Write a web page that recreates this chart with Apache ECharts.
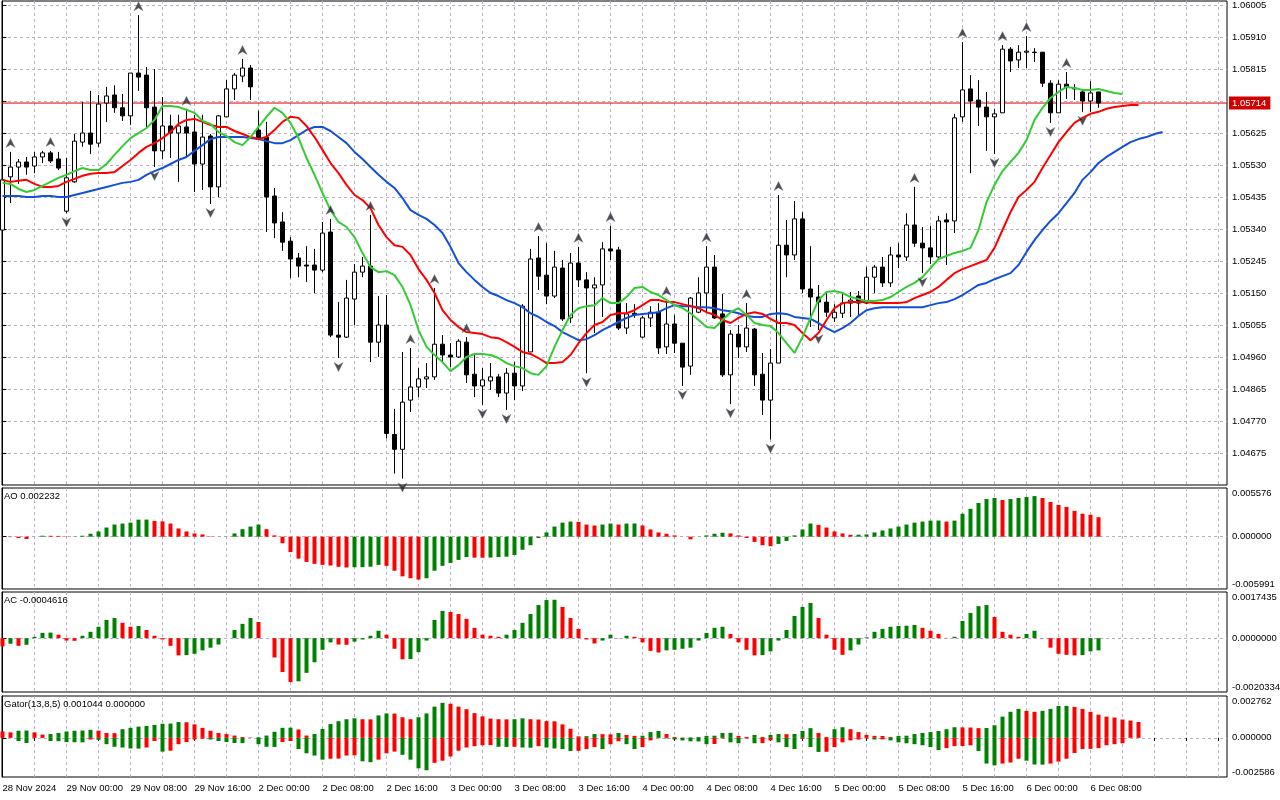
<!DOCTYPE html>
<html><head><meta charset="utf-8">
<script src="https://cdn.jsdelivr.net/npm/echarts@6/dist/echarts.min.js"></script>
<style>html,body{margin:0;padding:0;background:#fff}#chart{width:1280px;height:800px}</style>
</head><body><div id="chart"></div>
<script>
// ---- time axis labels (every 8 hourly bars, starting at bar 0) ----
const timeLabels = ["28 Nov 2024","29 Nov 00:00","29 Nov 08:00","29 Nov 16:00","2 Dec 00:00","2 Dec 08:00","2 Dec 16:00","3 Dec 00:00","3 Dec 08:00","3 Dec 16:00","4 Dec 00:00","4 Dec 08:00","4 Dec 16:00","5 Dec 00:00","5 Dec 08:00","5 Dec 16:00","6 Dec 00:00","6 Dec 08:00"];
const priceTicks = [1.06005,1.05910,1.05815,1.05720,1.05625,1.05530,1.05435,1.05340,1.05245,1.05150,1.05055,1.04960,1.04865,1.04770,1.04675];
const lastPrice = 1.05714;

// ---- H1 candles ----
const opens = [1.05337,1.05495,1.05524,1.05539,1.05527,1.05554,1.05566,1.05548,1.05393,1.05480,
1.05598,1.05625,1.05595,1.05714,1.05738,1.05700,1.05676,1.05803,1.05797,1.05702,
1.05572,1.05646,1.05625,1.05643,1.05628,1.05533,1.05616,1.05465,1.05673,1.05756,
1.05794,1.05818,1.05634,1.05613,1.05438,1.05361,1.05304,1.05254,1.05233,1.05233,
1.05218,1.05331,1.05025,1.05019,1.05132,1.05212,1.05230,1.05004,1.05055,1.04730,
1.04686,1.04832,1.04871,1.04895,1.04901,1.04998,1.04966,1.04960,1.05004,1.04909,
1.04874,1.04889,1.04901,1.04853,1.04912,1.04874,1.04975,1.05254,1.05203,1.05141,
1.05224,1.05076,1.05239,1.05189,1.05165,1.05174,1.05281,1.05278,1.05046,1.05090,
1.05019,1.05076,1.05093,1.04990,1.05058,1.05001,1.04933,1.05093,1.05150,1.05227,
1.05088,1.04907,1.05028,1.04990,1.05043,1.04909,1.04832,1.04942,1.05292,1.05263,
1.05370,1.05162,1.05138,1.05123,1.05076,1.05090,1.05120,1.05141,1.05120,1.05197,
1.05227,1.05180,1.05263,1.05257,1.05352,1.05298,1.05284,1.05257,1.05367,1.05364,
1.05673,1.05756,1.05723,1.05702,1.05673,1.05685,1.05874,1.05842,1.05865,1.05865,
1.05865,1.05773,1.05685,1.05770,1.05759,1.05747,1.05720,1.05747];
const closes = [1.05486,1.05524,1.05539,1.05524,1.05554,1.05566,1.05542,1.05521,1.05492,1.05601,
1.05625,1.05592,1.05711,1.05735,1.05700,1.05676,1.05803,1.05791,1.05700,1.05572,
1.05646,1.05625,1.05646,1.05625,1.05533,1.05613,1.05465,1.05676,1.05756,1.05797,
1.05818,1.05762,1.05610,1.05435,1.05358,1.05301,1.05251,1.05230,1.05230,1.05218,
1.05328,1.05025,1.05019,1.05135,1.05212,1.05230,1.05004,1.05055,1.04733,1.04686,
1.04826,1.04871,1.04895,1.04901,1.04998,1.04966,1.04960,1.05007,1.04907,1.04874,
1.04892,1.04901,1.04853,1.04912,1.04874,1.05111,1.05251,1.05200,1.05141,1.05227,
1.05073,1.05239,1.05189,1.05165,1.05174,1.05281,1.05275,1.05046,1.05088,1.05085,
1.05076,1.05093,1.04987,1.05058,1.05001,1.04930,1.05135,1.05150,1.05227,1.05076,
1.04907,1.05028,1.04990,1.05046,1.04907,1.04832,1.04942,1.05292,1.05263,1.05370,
1.05162,1.05138,1.05123,1.05093,1.05093,1.05120,1.05129,1.05120,1.05197,1.05227,
1.05180,1.05263,1.05257,1.05352,1.05298,1.05284,1.05257,1.05364,1.05361,1.05670,
1.05753,1.05720,1.05702,1.05673,1.05682,1.05874,1.05839,1.05865,1.05868,1.05864,
1.05773,1.05685,1.05770,1.05762,1.05756,1.05720,1.05744,1.05714];
const lows = [1.05331,1.05417,1.05474,1.05501,1.05506,1.05536,1.05536,1.05515,1.05387,1.05477,
1.05584,1.05563,1.05584,1.05658,1.05685,1.05661,1.05649,1.05750,1.05640,1.05524,
1.05548,1.05551,1.05480,1.05554,1.05450,1.05456,1.05414,1.05435,1.05673,1.05723,
1.05776,1.05723,1.05607,1.05331,1.05313,1.05275,1.05194,1.05197,1.05183,1.05150,
1.05212,1.05019,1.04957,1.05016,1.05055,1.05197,1.04945,1.04960,1.04718,1.04614,
1.04599,1.04797,1.04841,1.04868,1.04892,1.04942,1.04930,1.04957,1.04883,1.04841,
1.04818,1.04862,1.04841,1.04803,1.04832,1.04859,1.04975,1.05159,1.05117,1.05135,
1.05067,1.05061,1.05168,1.04912,1.05031,1.05079,1.05248,1.05040,1.05028,1.05076,
1.05016,1.05049,1.04969,1.04969,1.04972,1.04874,1.04907,1.05090,1.05093,1.05073,
1.04901,1.04820,1.04957,1.04975,1.04874,1.04788,1.04715,1.04942,1.05197,1.05248,
1.05150,1.05049,1.05040,1.05079,1.05064,1.05076,1.05079,1.05085,1.05117,1.05150,
1.05168,1.05168,1.05224,1.05245,1.05287,1.05209,1.05236,1.05254,1.05233,1.05328,
1.05658,1.05506,1.05646,1.05572,1.05563,1.05685,1.05806,1.05818,1.05818,1.05836,
1.05762,1.05655,1.05685,1.05726,1.05723,1.05688,1.05688,1.05700];
const highs = [1.05492,1.05569,1.05548,1.05554,1.05569,1.05572,1.05572,1.05569,1.05551,1.05622,
1.05717,1.05750,1.05738,1.05762,1.05767,1.05741,1.05803,1.05975,1.05821,1.05815,
1.05732,1.05679,1.05679,1.05694,1.05679,1.05679,1.05622,1.05679,1.05782,1.05803,
1.05845,1.05827,1.05691,1.05658,1.05462,1.05390,1.05316,1.05269,1.05289,1.05281,
1.05361,1.05370,1.05123,1.05189,1.05236,1.05257,1.05382,1.05141,1.05144,1.04806,
1.04975,1.04987,1.04927,1.04942,1.05165,1.05025,1.05001,1.05013,1.05019,1.04972,
1.04927,1.04942,1.04909,1.04927,1.04945,1.05117,1.05281,1.05319,1.05298,1.05275,
1.05248,1.05269,1.05287,1.05212,1.05197,1.05301,1.05349,1.05287,1.05120,1.05117,
1.05082,1.05111,1.05120,1.05129,1.05085,1.05001,1.05138,1.05197,1.05289,1.05263,
1.05147,1.05040,1.05055,1.05120,1.05046,1.04972,1.04984,1.05441,1.05367,1.05423,
1.05390,1.05289,1.05174,1.05150,1.05117,1.05147,1.05153,1.05156,1.05227,1.05233,
1.05257,1.05287,1.05298,1.05387,1.05465,1.05346,1.05349,1.05379,1.05387,1.05682,
1.05895,1.05797,1.05782,1.05747,1.05697,1.05886,1.05880,1.05886,1.05913,1.05877,
1.05865,1.05782,1.05782,1.05806,1.05770,1.05750,1.05779,1.05747];

// ---- Alligator (already shifted forward: lips +3, teeth +5, jaw +8) ----
const lips = [1.05477,1.05474,1.05459,1.05450,1.05456,1.05468,1.05480,1.05492,1.05501,1.05512,
1.05521,1.05515,1.05515,1.05533,1.05560,1.05586,1.05610,1.05625,1.05640,1.05664,
1.05705,1.05705,1.05702,1.05694,1.05685,1.05661,1.05652,1.05628,1.05616,1.05598,
1.05589,1.05613,1.05643,1.05673,1.05700,1.05685,1.05655,1.05610,1.05551,1.05501,
1.05447,1.05396,1.05361,1.05346,1.05316,1.05269,1.05227,1.05212,1.05215,1.05203,
1.05168,1.05114,1.05040,1.04990,1.04966,1.04945,1.04918,1.04936,1.04960,1.04969,
1.04969,1.04966,1.04957,1.04942,1.04933,1.04927,1.04912,1.04907,1.04933,1.04990,
1.05040,1.05085,1.05105,1.05111,1.05114,1.05135,1.05120,1.05120,1.05138,1.05165,
1.05168,1.05153,1.05144,1.05129,1.05114,1.05105,1.05090,1.05070,1.05049,1.05046,
1.05070,1.05093,1.05105,1.05085,1.05061,1.05055,1.05052,1.05031,1.05001,1.04972,
1.05019,1.05076,1.05129,1.05153,1.05156,1.05150,1.05138,1.05132,1.05126,1.05126,
1.05129,1.05138,1.05153,1.05168,1.05180,1.05197,1.05224,1.05251,1.05260,1.05269,
1.05275,1.05284,1.05337,1.05420,1.05471,1.05512,1.05539,1.05566,1.05604,1.05664,
1.05700,1.05729,1.05747,1.05762,1.05759,1.05753,1.05753,1.05756,1.05750,1.05744,
1.05741];
const teeth = [1.05486,1.05480,1.05483,1.05486,1.05474,1.05465,1.05465,1.05468,1.05480,1.05489,
1.05498,1.05504,1.05506,1.05506,1.05509,1.05527,1.05545,1.05566,1.05584,1.05595,
1.05610,1.05628,1.05652,1.05664,1.05667,1.05658,1.05649,1.05643,1.05643,1.05631,
1.05622,1.05613,1.05607,1.05613,1.05634,1.05658,1.05673,1.05670,1.05646,1.05613,
1.05575,1.05536,1.05506,1.05471,1.05441,1.05426,1.05402,1.05352,1.05316,1.05292,
1.05287,1.05263,1.05221,1.05189,1.05150,1.05099,1.05070,1.05049,1.05034,1.05031,
1.05028,1.05019,1.05016,1.05004,1.04990,1.04975,1.04969,1.04957,1.04942,1.04942,
1.04945,1.04966,1.05001,1.05031,1.05055,1.05064,1.05085,1.05090,1.05090,1.05099,
1.05114,1.05129,1.05129,1.05123,1.05123,1.05117,1.05111,1.05105,1.05093,1.05085,
1.05070,1.05061,1.05076,1.05088,1.05093,1.05088,1.05073,1.05061,1.05061,1.05055,
1.05031,1.05010,1.05031,1.05070,1.05105,1.05120,1.05123,1.05123,1.05123,1.05120,
1.05120,1.05120,1.05120,1.05123,1.05135,1.05144,1.05153,1.05168,1.05189,1.05209,
1.05221,1.05230,1.05239,1.05248,1.05284,1.05337,1.05390,1.05435,1.05456,1.05480,
1.05521,1.05560,1.05598,1.05628,1.05655,1.05670,1.05682,1.05688,1.05697,1.05702,
1.05705,1.05708,1.05708];
const jaw = [1.05438,1.05438,1.05438,1.05435,1.05435,1.05438,1.05438,1.05435,1.05435,1.05441,
1.05447,1.05453,1.05459,1.05465,1.05471,1.05477,1.05480,1.05486,1.05501,1.05512,
1.05521,1.05533,1.05545,1.05554,1.05572,1.05589,1.05607,1.05613,1.05613,1.05613,
1.05613,1.05610,1.05607,1.05601,1.05595,1.05595,1.05604,1.05619,1.05634,1.05643,
1.05643,1.05631,1.05613,1.05595,1.05569,1.05548,1.05524,1.05501,1.05480,1.05462,
1.05432,1.05396,1.05382,1.05370,1.05352,1.05328,1.05287,1.05239,1.05212,1.05189,
1.05168,1.05150,1.05141,1.05129,1.05120,1.05108,1.05090,1.05079,1.05064,1.05052,
1.05034,1.05022,1.05010,1.05013,1.05025,1.05040,1.05052,1.05064,1.05076,1.05085,
1.05088,1.05090,1.05093,1.05105,1.05114,1.05111,1.05111,1.05108,1.05108,1.05105,
1.05099,1.05096,1.05090,1.05082,1.05079,1.05079,1.05088,1.05090,1.05088,1.05079,
1.05076,1.05073,1.05061,1.05046,1.05034,1.05046,1.05061,1.05082,1.05099,1.05105,
1.05108,1.05108,1.05108,1.05108,1.05108,1.05108,1.05114,1.05120,1.05123,1.05132,
1.05144,1.05159,1.05174,1.05180,1.05191,1.05200,1.05209,1.05233,1.05272,1.05307,
1.05337,1.05364,1.05387,1.05417,1.05447,1.05486,1.05509,1.05536,1.05554,1.05569,
1.05584,1.05598,1.05607,1.05613,1.05622,1.05628];

// ---- Fractals (bar indices) ----
const fractalUp = [1,6,17,23,30,41,46,51,54,58,67,72,76,83,88,93,97,114,120,125,128,133];
const fractalDown = [8,19,26,42,50,60,63,73,85,91,96,102,115,124,131,135];

// ---- Awesome Oscillator ----
const ao = [-0.00002,-0.00005,-0.00015,-0.00026,0.00001,0.00011,0.00010,0.00009,-0.00003,0.00003,
0.00011,0.00034,0.00060,0.00105,0.00139,0.00150,0.00161,0.00195,0.00196,0.00180,
0.00176,0.00150,0.00094,0.00060,0.00037,0.00026,0.00004,0.00001,0.00002,0.00037,
0.00086,0.00116,0.00139,0.00086,0.00015,-0.00075,-0.00176,-0.00251,-0.00289,-0.00311,
-0.00323,-0.00330,-0.00345,-0.00353,-0.00350,-0.00349,-0.00344,-0.00323,-0.00334,-0.00390,
-0.00454,-0.00476,-0.00491,-0.00476,-0.00390,-0.00334,-0.00300,-0.00266,-0.00233,-0.00240,
-0.00241,-0.00239,-0.00233,-0.00229,-0.00210,-0.00150,-0.00098,-0.00015,0.00049,0.00116,
0.00161,0.00173,0.00170,0.00139,0.00128,0.00139,0.00150,0.00139,0.00150,0.00151,
0.00128,0.00083,0.00049,0.00034,0.00015,0.00001,-0.00030,-0.00001,0.00015,0.00034,
0.00045,0.00038,0.00015,-0.00015,-0.00060,-0.00098,-0.00109,-0.00083,-0.00049,0.00015,
0.00083,0.00150,0.00135,0.00105,0.00060,0.00037,0.00022,0.00023,0.00026,0.00049,
0.00071,0.00094,0.00116,0.00139,0.00161,0.00173,0.00184,0.00185,0.00173,0.00184,
0.00263,0.00319,0.00386,0.00431,0.00443,0.00420,0.00431,0.00443,0.00454,0.00465,
0.00443,0.00398,0.00364,0.00341,0.00296,0.00263,0.00251,0.002232];
const aoTicks = [0.005576, 0, -0.005991];

// ---- Accelerator Oscillator ----
const ac = [-0.00031,-0.00021,-0.00029,-0.00025,0.00005,0.00020,0.00021,0.00013,-0.00009,-0.00010,
0.00009,0.00024,0.00043,0.00069,0.00076,0.00058,0.00043,0.00046,0.00031,0.00009,
-0.00005,-0.00029,-0.00065,-0.00064,-0.00059,-0.00046,-0.00036,-0.00024,0.00000,0.00031,
0.00054,0.00076,0.00061,0.00000,-0.00073,-0.00128,-0.00166,-0.00163,-0.00131,-0.00091,
-0.00044,-0.00016,-0.00024,-0.00025,-0.00013,-0.00005,0.00009,0.00028,0.00013,-0.00040,
-0.00080,-0.00079,-0.00053,-0.00009,0.00069,0.00103,0.00099,0.00091,0.00073,0.00039,
0.00013,0.00009,0.00005,0.00013,0.00031,0.00058,0.00091,0.00125,0.00144,0.00145,
0.00118,0.00076,0.00035,-0.00005,-0.00020,-0.00009,0.00013,-0.00001,0.00009,0.00005,
-0.00016,-0.00048,-0.00054,-0.00046,-0.00044,-0.00040,-0.00036,-0.00009,0.00020,0.00039,
0.00043,0.00016,-0.00016,-0.00044,-0.00065,-0.00064,-0.00050,-0.00009,0.00031,0.00084,
0.00118,0.00133,0.00076,0.00013,-0.00044,-0.00063,-0.00046,-0.00024,0.00003,0.00024,
0.00035,0.00043,0.00046,0.00047,0.00050,0.00039,0.00028,0.00016,0.00001,0.00005,
0.00065,0.00095,0.00121,0.00125,0.00080,0.00024,0.00013,0.00005,0.00016,0.00028,
-0.00001,-0.00036,-0.00059,-0.00063,-0.00065,-0.00064,-0.00050,-0.0004616];
const acTicks = [0.0017435, 0, -0.0020334];

// ---- Gator Oscillator ----
const gatorUp = [0.00042,0.00036,0.00047,0.00048,0.00036,0.00021,0.00025,0.00032,0.00042,0.00047,
0.00048,0.00053,0.00047,0.00032,0.00031,0.00057,0.00066,0.00074,0.00078,0.00085,
0.00093,0.00094,0.00104,0.00103,0.00089,0.00066,0.00047,0.00032,0.00025,0.00015,
0.00006,0.00002,0.00004,0.00015,0.00040,0.00066,0.00067,0.00055,0.00015,0.00025,
0.00059,0.00091,0.00110,0.00123,0.00129,0.00123,0.00122,0.00148,0.00161,0.00160,
0.00136,0.00123,0.00136,0.00161,0.00206,0.00231,0.00225,0.00206,0.00189,0.00163,
0.00142,0.00127,0.00123,0.00122,0.00123,0.00129,0.00123,0.00121,0.00110,0.00109,
0.00089,0.00060,0.00010,0.00011,0.00025,0.00024,0.00023,0.00032,0.00019,0.00013,
0.00014,0.00038,0.00045,0.00025,0.00006,0.00002,0.00003,0.00006,0.00013,0.00014,
0.00032,0.00033,0.00013,0.00006,0.00019,0.00006,0.00019,0.00025,0.00024,0.00026,
0.00045,0.00064,0.00032,0.00006,0.00057,0.00070,0.00057,0.00038,0.00019,0.00013,
0.00012,0.00006,0.00013,0.00014,0.00025,0.00032,0.00038,0.00045,0.00057,0.00070,
0.00069,0.00068,0.00064,0.00065,0.00083,0.00140,0.00172,0.00191,0.00178,0.00172,
0.00178,0.00191,0.00210,0.00211,0.00204,0.00191,0.00172,0.00153,0.00140,0.00134,
0.00121,0.00114,0.001044];
const gatorDown = [0,0,-0.00021,-0.00034,-0.00002,-0.00001,-0.00021,-0.00022,-0.00028,-0.00029,
-0.00030,-0.00011,-0.00013,-0.00042,-0.00059,-0.00064,-0.00070,-0.00071,-0.00064,-0.00021,
-0.00091,-0.00085,-0.00042,-0.00028,-0.00011,-0.00006,-0.00011,-0.00021,-0.00028,-0.00034,
-0.00035,-0.00001,-0.00042,-0.00059,-0.00060,-0.00028,-0.00021,-0.00074,-0.00102,-0.00117,
-0.00144,-0.00138,-0.00137,-0.00117,-0.00116,-0.00155,-0.00161,-0.00144,-0.00102,-0.00091,
-0.00112,-0.00144,-0.00201,-0.00214,-0.00165,-0.00151,-0.00123,-0.00085,-0.00064,-0.00055,
-0.00049,-0.00048,-0.00059,-0.00060,-0.00059,-0.00064,-0.00065,-0.00055,-0.00064,-0.00070,
-0.00074,-0.00087,-0.00086,-0.00074,-0.00061,-0.00074,-0.00042,-0.00023,-0.00042,-0.00074,
-0.00061,-0.00017,-0.00002,-0.00004,-0.00011,-0.00017,-0.00023,-0.00024,-0.00042,-0.00041,
-0.00004,-0.00030,-0.00036,-0.00004,-0.00036,-0.00035,-0.00017,-0.00030,-0.00061,-0.00074,
-0.00006,-0.00061,-0.00093,-0.00092,-0.00061,-0.00030,-0.00017,-0.00011,-0.00004,-0.00011,
-0.00010,-0.00017,-0.00030,-0.00036,-0.00042,-0.00049,-0.00061,-0.00081,-0.00068,-0.00055,
-0.00054,-0.00049,-0.00087,-0.00170,-0.00182,-0.00170,-0.00163,-0.00138,-0.00151,-0.00176,
-0.00177,-0.00170,-0.00157,-0.00138,-0.00100,-0.00074,-0.00073,-0.00068,-0.00049,-0.00042,
-0.00036];
const gatorTicks = [0.002762, 0, -0.002586];

// ---------------- chart ----------------
const FONT = 'Liberation Sans, Arial, sans-serif';
const GREEN = '#008000', RED = '#ff0000', GRIDC = '#bdb0c4';
const BARS_VISIBLE = 153.125;           // number of bar slots across the pane
const X_MIN = -0.0625, X_MAX = X_MIN + BARS_VISIBLE;
const gridXTicks = []; for (let i = 0; i <= 152; i += 4) gridXTicks.push(i);
const labelXTicks = timeLabels.map((_, k) => k * 8);

const grids = [
  {left: 2, top: 1, width: 1225, height: 484},
  {left: 2, top: 488, width: 1225, height: 101},
  {left: 2, top: 592, width: 1225, height: 100},
  {left: 2, top: 696, width: 1225, height: 81}
].map(g => Object.assign(g, {show: true, borderColor: '#000', borderWidth: 1, backgroundColor: '#fff', containLabel: false, outerBoundsMode: 'none'}));

function xAxisFor(g, showLabels) {
  return {
    type: 'value', gridIndex: g, min: X_MIN, max: X_MAX,
    axisLine: {show: false},
    axisTick: {show: showLabels, customValues: gridXTicks, length: 3, lineStyle: {color: '#000'}},
    axisLabel: {show: showLabels, customValues: labelXTicks, align: 'left', margin: 6,
      fontFamily: FONT, fontSize: 9.5, color: '#000',
      formatter: v => timeLabels[Math.round(v / 8)] || ''},
    splitLine: {show: true, lineStyle: {type: [3, 3], color: GRIDC, width: 1}}
  };
}

function paneYAxis(g, ticks, decimals, heightPx) {
  const mx = ticks[0], mn = ticks[2];
  const pad = (mx - mn) * 5 / heightPx;
  return {
    type: 'value', gridIndex: g, position: 'right', min: mn, max: mx,
    axisLine: {show: true, lineStyle: {color: '#000'}},
    axisTick: {show: true, customValues: [0], length: 4, lineStyle: {color: '#000'}},
    axisLabel: {customValues: [mx - pad, 0, mn + pad], margin: 5, fontFamily: FONT, fontSize: 9.5, color: '#000',
      formatter: v => (v > pad / 2 ? ticks[0] : (v < -pad / 2 ? ticks[2] : 0)).toFixed(decimals)},
    splitLine: {show: true, lineStyle: {type: [3, 3], color: GRIDC}}
  };
}

function histo(arr, absMode) {
  return arr.map((v, i) => {
    const cur = absMode ? Math.abs(v) : v;
    const prev = i > 0 ? (absMode ? Math.abs(arr[i - 1]) : arr[i - 1]) : null;
    const rising = prev !== null && cur > prev;
    return {value: [i, v], itemStyle: {color: rising ? GREEN : RED}};
  });
}

const candleData = opens.map((o, i) => [i, o, closes[i], lows[i], highs[i]]);
const toLine = arr => arr.map((v, i) => [i, v]);

const upArrow = 'path://M5,0 L10,10 L5,7 L0,10 Z';
const downArrow = 'path://M0,0 L5,3 L10,0 L5,10 Z';

const lastG = gatorUp.length - 1;
const titles = [
  {text: 'AO ' + ao[ao.length - 1].toFixed(6), top: 491},
  {text: 'AC ' + ac[ac.length - 1].toFixed(7), top: 595},
  {text: 'Gator(13,8,5) ' + gatorUp[lastG].toFixed(6) + ' ' + (gatorDown[lastG] || 0).toFixed(6), top: 699}
].map(t => Object.assign(t, {left: 4, padding: 0, textStyle: {fontFamily: FONT, fontSize: 9.5, fontWeight: 'normal', color: '#000'}}));

const option = {
  animation: false,
  backgroundColor: '#fff',
  title: titles,
  grid: grids,
  xAxis: [xAxisFor(0, false), xAxisFor(1, false), xAxisFor(2, false), xAxisFor(3, true)],
  yAxis: [
    {
      type: 'value', gridIndex: 0, position: 'right', min: 1.0458, max: 1.06017,
      axisLine: {show: true, lineStyle: {color: '#000'}},
      axisTick: {show: true, customValues: priceTicks, length: 4, lineStyle: {color: '#000'}},
      axisLabel: {customValues: priceTicks.filter(v => Math.abs(v - lastPrice) > 0.0002), margin: 5,
        fontFamily: FONT, fontSize: 9.5, color: '#000', formatter: v => v.toFixed(5)},
      splitLine: {show: true, lineStyle: {type: [3, 3], color: GRIDC}}
    },
    paneYAxis(1, aoTicks, 6, 101),
    paneYAxis(2, acTicks, 7, 100),
    paneYAxis(3, gatorTicks, 6, 81)
  ],
  series: [
    // current price (bid) line
    {type: 'line', name: 'Bid', xAxisIndex: 0, yAxisIndex: 0, data: [[X_MIN, lastPrice], [X_MAX, lastPrice]],
      showSymbol: false, symbol: 'none', silent: true, clip: false, z: 1,
      lineStyle: {color: '#e00000', width: 1},
      endLabel: {show: true, distance: 2, formatter: () => lastPrice.toFixed(5),
        color: '#fff', backgroundColor: '#d00000', padding: [2, 4, 1, 3], fontFamily: FONT, fontSize: 9.5}},
    {
      type: 'candlestick', xAxisIndex: 0, yAxisIndex: 0, data: candleData,
      encode: {x: 0, y: [1, 2, 3, 4]}, barWidth: 4, clip: true, z: 2,
      itemStyle: {color: '#ffffff', color0: '#000000', borderColor: '#000000', borderColor0: '#000000', borderColorDoji: '#000000', borderWidth: 1}
    },
    {type: 'line', name: 'Jaws', xAxisIndex: 0, yAxisIndex: 0, data: toLine(jaw), showSymbol: false, symbol: 'none', lineStyle: {color: '#1250d8', width: 2}, z: 3},
    {type: 'line', name: 'Teeth', xAxisIndex: 0, yAxisIndex: 0, data: toLine(teeth), showSymbol: false, symbol: 'none', lineStyle: {color: '#ff0000', width: 2}, z: 3},
    {type: 'line', name: 'Lips', xAxisIndex: 0, yAxisIndex: 0, data: toLine(lips), showSymbol: false, symbol: 'none', lineStyle: {color: '#32cd32', width: 2}, z: 3},
    {type: 'scatter', xAxisIndex: 0, yAxisIndex: 0, data: fractalUp.map(i => [i, highs[i]]),
      symbol: upArrow, symbolSize: [9, 9], symbolOffset: [0, -9], itemStyle: {color: '#222', borderColor: '#6a7a90', borderWidth: 0.5}, z: 4},
    {type: 'scatter', xAxisIndex: 0, yAxisIndex: 0, data: fractalDown.map(i => [i, lows[i]]),
      symbol: downArrow, symbolSize: [9, 9], symbolOffset: [0, 9], itemStyle: {color: '#222', borderColor: '#6a7a90', borderWidth: 0.5}, z: 4},
    {type: 'bar', xAxisIndex: 1, yAxisIndex: 1, data: histo(ao, false), barWidth: 4},
    {type: 'bar', xAxisIndex: 2, yAxisIndex: 2, data: histo(ac, false), barWidth: 4},
    {type: 'bar', xAxisIndex: 3, yAxisIndex: 3, data: histo(gatorUp, true), barWidth: 4, barGap: '-100%'},
    {type: 'bar', xAxisIndex: 3, yAxisIndex: 3, data: histo(gatorDown, true), barWidth: 4, barGap: '-100%'}
  ]
};

const chart = echarts.init(document.getElementById('chart'), null, {renderer: 'canvas'});
chart.setOption(option);
</script></body></html>
